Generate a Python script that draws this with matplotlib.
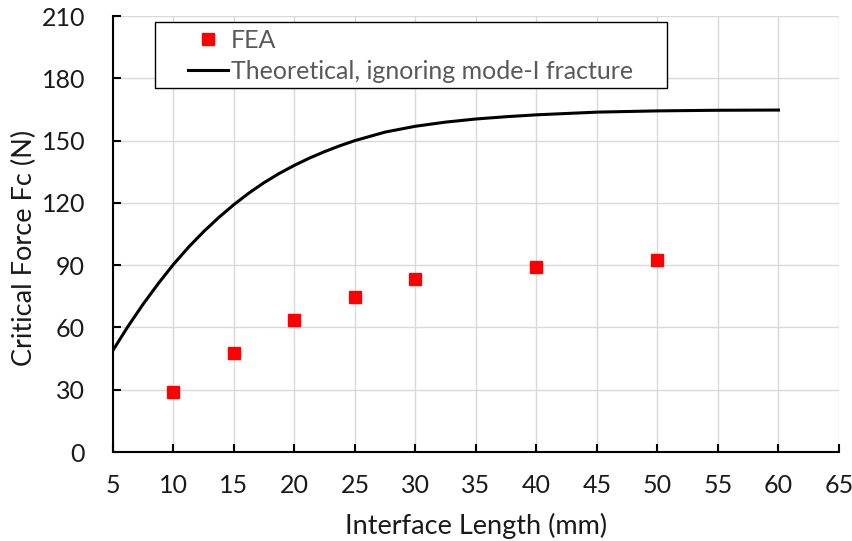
import matplotlib.pyplot as plt
from matplotlib.patches import Rectangle
import numpy as np

# FEA results
fea_length = [10, 15, 20, 25, 30, 40, 50]
fea_force = [29, 47.8, 63.8, 74.5, 83.2, 89.2, 92.4]

# Theoretical curve
theo_length = [5, 6.25, 7.5, 8.75, 10, 11.25, 12.5, 13.75, 15, 16.25, 17.5, 18.75,
               20, 21.25, 22.5, 23.75, 25, 27.5, 30, 32.5, 35, 37.5, 40, 45, 50, 55, 60]
theo_force = [49, 60.6, 71.3, 81.2, 90.4, 98.7, 106.2, 113.0, 119.2, 124.8, 129.8, 134.2,
              138.1, 141.6, 144.7, 147.5, 150.0, 154.1, 156.9, 158.9, 160.4, 161.5,
              162.4, 163.7, 164.3, 164.6, 164.7]

plt.rcParams['font.family'] = ['Lato', 'DejaVu Sans']
dark = '#1a1a1a'
grey = '#595959'

fig = plt.figure(figsize=(8.53, 5.41), dpi=100)
ax = fig.add_axes([113 / 853, 1 - 452 / 541, 726 / 853, 436 / 541])

ax.plot(theo_length, theo_force, color='black', lw=2.2,
        label='Theoretical, ignoring mode-I fracture', zorder=3)
ax.plot(fea_length, fea_force, 's', color='#ff0000', ms=8, label='FEA', zorder=4)

ax.set_xlim(5, 65)
ax.set_ylim(0, 210)
ax.set_xticks(np.arange(5, 66, 5))
ax.set_yticks(np.arange(0, 211, 30))
ax.grid(True, color='#d9d9d9', lw=1)
ax.set_axisbelow(True)

for s in ['top', 'right']:
    ax.spines[s].set_visible(False)
for s in ['left', 'bottom']:
    ax.spines[s].set_linewidth(1.5)
    ax.spines[s].set_color('black')

ax.tick_params(axis='x', direction='in', length=6, width=1.5, pad=16,
               labelsize=18, labelcolor=dark)
ax.tick_params(axis='y', direction='in', length=6, width=1.5, pad=20,
               labelsize=18, labelcolor=dark)

ax.set_xlabel('Interface Length (mm)', fontsize=19.5, color=dark)
ax.set_ylabel('Critical Force Fc (N)', fontsize=19.5, color=dark)
ax.xaxis.set_label_coords(0.5, -0.14)
ax.yaxis.set_label_coords(-0.105, 0.468)

# legend box drawn separately so the entries can sit inset like the original
ax.add_patch(Rectangle((0.058, 0.835), 0.705, 0.151, transform=ax.transAxes,
                       facecolor='white', edgecolor='black', lw=1, zorder=5))
handles, labels = ax.get_legend_handles_labels()
leg = ax.legend(handles[::-1], labels[::-1], loc='upper left',
                bbox_to_anchor=(0.103, 0.971), frameon=False, fontsize=18,
                handlelength=1.6, borderpad=0, borderaxespad=0,
                labelspacing=0.33, handletextpad=0.12)
leg.set_zorder(6)
for t in leg.get_texts():
    t.set_color(grey)

fig.savefig('out.png', dpi=100)
